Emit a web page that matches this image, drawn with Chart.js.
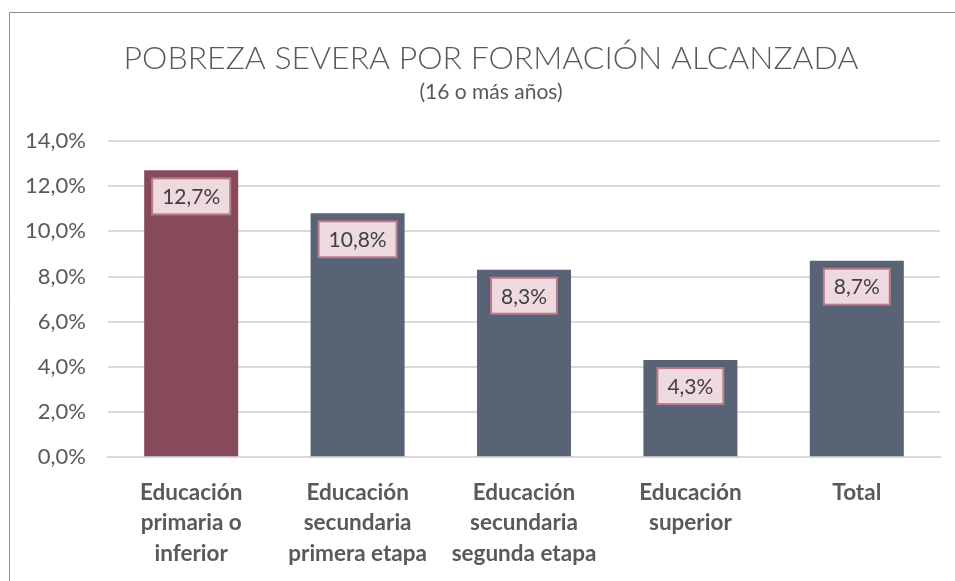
<!DOCTYPE html>
<html>
<head>
<meta charset="utf-8">
<script src="https://cdn.jsdelivr.net/npm/chart.js@4/dist/chart.umd.min.js"></script>
<style>
  html, body { margin: 0; padding: 0; background: #fff; }
  #wrap { width: 955px; height: 581px; position: relative; }
</style>
</head>
<body>
<div id="wrap"><canvas id="chart" width="955" height="581"></canvas></div>
<script>
const categories = [
  ['Educación', 'primaria o', 'inferior'],
  ['Educación', 'secundaria', 'primera etapa'],
  ['Educación', 'secundaria', 'segunda etapa'],
  ['Educación', 'superior'],
  'Total'
];
const values = [12.7, 10.8, 8.3, 4.3, 8.7];
const barColors = ['#874A5A', '#586475', '#586475', '#586475', '#586475'];
const yTicks = [0, 2, 4, 6, 8, 10, 12, 14];
const titleText = 'POBREZA SEVERA POR FORMACIÓN ALCANZADA';
const subtitleText = '(16 o más años)';

const fmt = v => v.toFixed(1).replace('.', ',') + '%';
const FONT = 'Lato, "Open Sans", sans-serif';

// marco gris, título y etiquetas en caja
const extras = {
  id: 'extras',
  beforeDraw: (chart) => {
    const { ctx } = chart;
    ctx.save();
    ctx.strokeStyle = '#8c8c8c';
    ctx.lineWidth = 1;
    ctx.beginPath();
    ctx.moveTo(9.5, 581);
    ctx.lineTo(9.5, 12.5);
    ctx.lineTo(955, 12.5);
    ctx.stroke();

    ctx.fillStyle = '#595959';
    ctx.textAlign = 'center';
    ctx.textBaseline = 'alphabetic';
    ctx.font = '300 32px ' + FONT;
    ctx.fillText(titleText, 491, 69);
    ctx.font = '21px ' + FONT;
    ctx.fillText(subtitleText, 491, 99);
    ctx.restore();
  },
  afterDatasetsDraw: (chart) => {
    const { ctx } = chart;
    const meta = chart.getDatasetMeta(0);
    ctx.save();
    ctx.font = '21px ' + FONT;
    ctx.textAlign = 'center';
    ctx.textBaseline = 'middle';
    meta.data.forEach((bar, i) => {
      const txt = fmt(values[i]);
      const w = ctx.measureText(txt).width + 20;
      const h = 36;
      const x = bar.x - w / 2;
      const y = bar.y + 8;
      ctx.fillStyle = '#EDD9DE';
      ctx.fillRect(x, y, w, h);
      ctx.strokeStyle = '#B97A8A';
      ctx.lineWidth = 2;
      ctx.strokeRect(x, y, w, h);
      ctx.fillStyle = '#404040';
      ctx.fillText(txt, bar.x, y + h / 2 + 1);
    });
    ctx.restore();
  }
};

new Chart(document.getElementById('chart'), {
  type: 'bar',
  data: {
    labels: categories,
    datasets: [{
      data: values,
      backgroundColor: barColors,
      borderWidth: 0,
      categoryPercentage: 1,
      barPercentage: 0.565
    }]
  },
  options: {
    responsive: false,
    animation: false,
    layout: { padding: { left: 22, right: 15, top: 141, bottom: 0 } },
    scales: {
      y: {
        min: 0,
        max: 14,
        afterBuildTicks: (axis) => { axis.ticks = yTicks.map(v => ({ value: v })); },
        afterFit: (axis) => { axis.width = 86; },
        ticks: {
          callback: v => fmt(v),
          color: '#595959',
          font: { family: FONT, size: 22 },
          padding: 22
        },
        grid: { color: '#D9D9D9', lineWidth: 2, drawTicks: false },
        border: { display: false }
      },
      x: {
        ticks: {
          color: '#595959',
          font: { family: FONT, size: 22.5, weight: 'bold', lineHeight: 1.36 },
          padding: 12,
          maxRotation: 0,
          autoSkip: false
        },
        grid: { display: false },
        border: { color: '#D9D9D9', width: 2 }
      }
    },
    plugins: {
      legend: { display: false },
      tooltip: { enabled: false },
      title: { display: false }
    }
  },
  plugins: [extras]
});
</script>
</body>
</html>
